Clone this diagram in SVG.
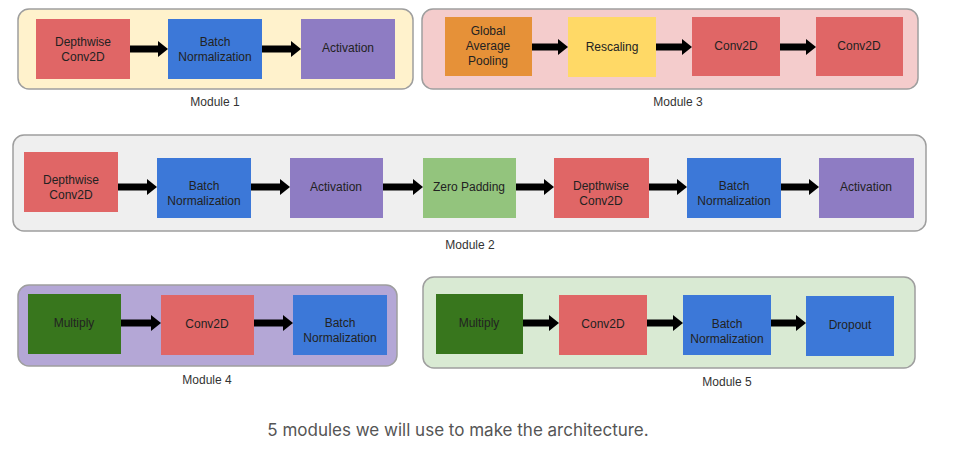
<svg xmlns="http://www.w3.org/2000/svg" width="975" height="453" viewBox="0 0 975 453">
<style>
.mod{stroke:#9e9e9e;stroke-width:1.5}
.nd text,.lbl{font-family:"Liberation Sans",Arial,sans-serif;font-size:12px;fill:#222;text-anchor:middle}
.lbl{fill:#333}
.red{fill:#e06666}.blue{fill:#3c78d8}.pur{fill:#8e7cc3}.org{fill:#e69138}.yel{fill:#ffd966}.grn{fill:#93c47d}.dgr{fill:#38761d}
.cn line{stroke:#000;stroke-width:7;marker-end:url(#ah)}
.cap{font-family:Inter,"Liberation Sans",sans-serif;font-size:17px;fill:#555;text-anchor:middle}
</style>
<defs>
<marker id="ah" markerUnits="userSpaceOnUse" markerWidth="10" markerHeight="16" viewBox="0 0 10 16" refX="0" refY="8" orient="auto"><path d="M0,0L10,8L0,16z" fill="#000"/></marker>
</defs>
<rect width="975" height="453" fill="#fff"/>
<!-- containers -->
<g id="module1"><rect class="mod" x="18" y="9" width="395" height="80" rx="11" fill="#fff2cc"/><text class="lbl" x="215" y="106">Module 1</text></g>
<g id="module3"><rect class="mod" x="422" y="9" width="496" height="80" rx="11" fill="#f4cccc"/><text class="lbl" x="678" y="106">Module 3</text></g>
<g id="module2"><rect class="mod" x="13" y="135" width="913" height="96" rx="11" fill="#efefef"/><text class="lbl" x="470" y="249">Module 2</text></g>
<g id="module4"><rect class="mod" x="18" y="285" width="379" height="81" rx="11" fill="#b4a7d6"/><text class="lbl" x="207" y="384">Module 4</text></g>
<g id="module5"><rect class="mod" x="423" y="277" width="492" height="91" rx="11" fill="#d9ead3"/><text class="lbl" x="727" y="386">Module 5</text></g>
<!-- connectors -->
<g class="cn" id="connectors">
<line x1="130" y1="49" x2="158" y2="49"/>
<line x1="262" y1="49" x2="291" y2="49"/>
<line x1="532" y1="47" x2="558" y2="47"/>
<line x1="656" y1="47" x2="682" y2="47"/>
<line x1="780" y1="47" x2="806" y2="47"/>
<line x1="118" y1="187" x2="147" y2="187"/>
<line x1="251" y1="187" x2="280" y2="187"/>
<line x1="383" y1="187" x2="413" y2="187"/>
<line x1="516" y1="187" x2="544" y2="187"/>
<line x1="649" y1="187" x2="677" y2="187"/>
<line x1="781" y1="187" x2="809" y2="187"/>
<line x1="121" y1="323" x2="151" y2="323"/>
<line x1="254" y1="323" x2="283" y2="323"/>
<line x1="523" y1="323" x2="549" y2="323"/>
<line x1="647" y1="323" x2="673" y2="323"/>
<line x1="771" y1="323" x2="796" y2="323"/>
</g>
<!-- Module 1 nodes -->
<g class="nd" id="m1-dwconv"><rect class="red" x="36" y="19" width="94" height="60"/><text x="83" y="46">Depthwise</text><text x="83" y="61">Conv2D</text></g>
<g class="nd" id="m1-bn"><rect class="blue" x="168" y="19" width="94" height="60"/><text x="215" y="46">Batch</text><text x="215" y="61">Normalization</text></g>
<g class="nd" id="m1-act"><rect class="pur" x="301" y="19" width="94" height="60"/><text x="348" y="52">Activation</text></g>
<!-- Module 3 nodes -->
<g class="nd" id="m3-gap"><rect class="org" x="445" y="17" width="87" height="59"/><text x="488" y="35">Global</text><text x="488" y="50">Average</text><text x="488" y="65">Pooling</text></g>
<g class="nd" id="m3-rescale"><rect class="yel" x="568" y="17" width="88" height="60"/><text x="612" y="51">Rescaling</text></g>
<g class="nd" id="m3-conv1"><rect class="red" x="692" y="17" width="88" height="59"/><text x="736" y="50">Conv2D</text></g>
<g class="nd" id="m3-conv2"><rect class="red" x="816" y="17" width="87" height="59"/><text x="859" y="50">Conv2D</text></g>
<!-- Module 2 nodes -->
<g class="nd" id="m2-dwconv1"><rect class="red" x="24" y="152" width="94" height="60"/><text x="71" y="184">Depthwise</text><text x="71" y="199">Conv2D</text></g>
<g class="nd" id="m2-bn1"><rect class="blue" x="157" y="158" width="94" height="60"/><text x="204" y="190">Batch</text><text x="204" y="205">Normalization</text></g>
<g class="nd" id="m2-act1"><rect class="pur" x="290" y="158" width="93" height="60"/><text x="336" y="191">Activation</text></g>
<g class="nd" id="m2-zpad"><rect class="grn" x="423" y="158" width="93" height="60"/><text x="469" y="191">Zero Padding</text></g>
<g class="nd" id="m2-dwconv2"><rect class="red" x="554" y="158" width="95" height="60"/><text x="601" y="190">Depthwise</text><text x="601" y="205">Conv2D</text></g>
<g class="nd" id="m2-bn2"><rect class="blue" x="687" y="158" width="94" height="60"/><text x="734" y="190">Batch</text><text x="734" y="205">Normalization</text></g>
<g class="nd" id="m2-act2"><rect class="pur" x="819" y="158" width="95" height="60"/><text x="866" y="191">Activation</text></g>
<!-- Module 4 nodes -->
<g class="nd" id="m4-mul"><rect class="dgr" x="28" y="294" width="93" height="60"/><text x="74" y="327">Multiply</text></g>
<g class="nd" id="m4-conv"><rect class="red" x="161" y="295" width="93" height="60"/><text x="207" y="328">Conv2D</text></g>
<g class="nd" id="m4-bn"><rect class="blue" x="293" y="295" width="94" height="60"/><text x="340" y="327">Batch</text><text x="340" y="342">Normalization</text></g>
<!-- Module 5 nodes -->
<g class="nd" id="m5-mul"><rect class="dgr" x="436" y="294" width="87" height="60"/><text x="479" y="327">Multiply</text></g>
<g class="nd" id="m5-conv"><rect class="red" x="559" y="295" width="88" height="60"/><text x="603" y="328">Conv2D</text></g>
<g class="nd" id="m5-bn"><rect class="blue" x="683" y="295" width="88" height="60"/><text x="727" y="328">Batch</text><text x="727" y="343">Normalization</text></g>
<g class="nd" id="m5-drop"><rect class="blue" x="806" y="296" width="88" height="60"/><text x="850" y="329">Dropout</text></g>
<text class="cap" x="458" y="436">5 modules we will use to make the architecture.</text>
</svg>
